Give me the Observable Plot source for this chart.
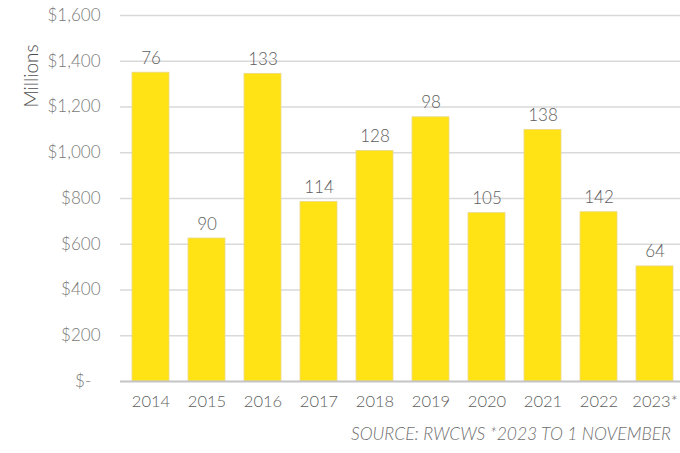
<!DOCTYPE html>
<html>
<head>
<meta charset="utf-8">
<script src="https://cdn.jsdelivr.net/npm/d3@7"></script>
<script src="https://cdn.jsdelivr.net/npm/@observablehq/plot@0.6"></script>
<style>
  body { margin: 0; background: #fff; font-family: Lato, sans-serif; }
  #caption { width: 680px; text-align: right; font-style: italic; font-weight: 300; font-size: 17.5px; color: #6f6f6f; padding-right: 9px; box-sizing: border-box; margin-top: 3px; }
</style>
</head>
<body>
<div id="chart"></div>
<div id="caption">SOURCE: RWCWS *2023 TO 1 NOVEMBER</div>
<script>
const years = ["2014", "2015", "2016", "2017", "2018", "2019", "2020", "2021", "2022", "2023*"];
const amounts = [1350, 625, 1345, 785, 1008, 1155, 736, 1100, 740, 503];
const counts = [76, 90, 133, 114, 128, 98, 105, 138, 142, 64];
const yTicks = [0, 200, 400, 600, 800, 1000, 1200, 1400, 1600];
const yTickLabels = ["$-\u00a0\u00a0", "$200", "$400", "$600", "$800", "$1,000", "$1,200", "$1,400", "$1,600"];

const data = years.map((y, i) => ({year: y, amount: amounts[i], count: counts[i]}));

const chart = Plot.plot({
  width: 680,
  height: 420,
  marginTop: 15,
  marginBottom: 39,
  marginLeft: 120,
  marginRight: 0,
  style: {fontFamily: "Lato, sans-serif", fontSize: "16px", fontWeight: 300, background: "#fff"},
  x: {domain: years, range: [130, 676], paddingInner: 0.336, paddingOuter: 0, label: null},
  y: {domain: [0, 1600], label: null},
  marks: [
    Plot.ruleY(yTicks.filter(d => d > 0), {stroke: "#d9d9d9", strokeWidth: 1.5}),
    Plot.barY(data, {x: "year", y: "amount", fill: "#ffe314", stroke: "#e8d88a", strokeWidth: 0.8}),
    Plot.ruleY([0], {stroke: "#c4c4c4", strokeWidth: 2}),
    Plot.text(data, {x: "year", y: "amount", text: d => String(d.count), dy: -9, lineAnchor: "bottom", fill: "#5e5e5e", fontSize: 17, fontWeight: 300}),
    Plot.axisY({ticks: yTicks, tickFormat: d => yTickLabels[yTicks.indexOf(d)], tickSize: 0, tickPadding: 20, color: "#7a7a7a", label: null, fontSize: 17, fontWeight: 300}),
    Plot.axisX({tickSize: 0, tickPadding: 14, color: "#5e5e5e", label: null, fontSize: 16.5, fontWeight: 300}),
    Plot.text(["Millions"], {frameAnchor: "top-left", dx: -96, dy: 92, rotate: -90, fill: "#4e4e4e", fontSize: 19, fontWeight: 300})
  ]
});
document.getElementById("chart").appendChild(chart);
</script>
</body>
</html>
